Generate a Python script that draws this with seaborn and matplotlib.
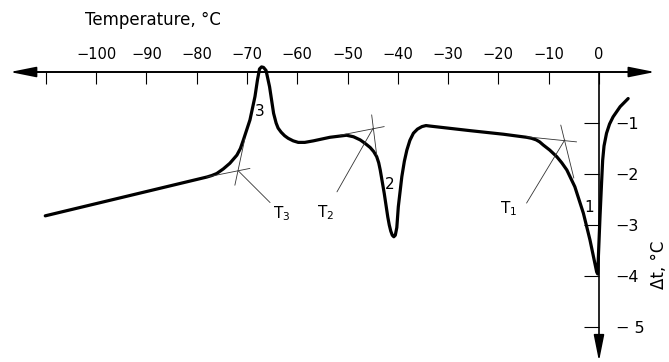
import matplotlib
matplotlib.use("Agg")
import matplotlib.pyplot as plt
import seaborn as sns
import pandas as pd

# ---- data ----
temperature = [-110.1, -78.0, -77.0, -76.0, -74.7, -73.4, -72.0, -71.3, -70.7, -69.4,
               -68.4, -67.9, -67.5, -67.1, -66.7, -66.2, -65.5, -64.7, -64.2, -63.8,
               -63.2, -62.5, -61.8, -60.8, -59.8, -58.5, -56.8, -53.5, -50.2, -48.8,
               -47.5, -46.5, -45.5, -44.8, -44.2, -43.8, -43.5, -42.7, -42.0, -41.7,
               -41.4, -41.1, -40.8, -40.5, -40.2, -39.9, -39.2, -38.7, -38.2, -37.6,
               -36.9, -36.1, -35.2, -34.4, -33.6, -25.6, -19.0, -14.4, -13.4, -12.5,
               -11.8, -11.1, -9.8, -8.4, -7.4, -6.4, -4.8, -3.1, -1.8, -0.46,
               -0.26, 0.2, 0.5, 0.73, 1.0, 1.5, 2.1, 2.8, 4.2, 5.8]
delta_t = [-2.82, -2.06, -2.03, -1.99, -1.90, -1.79, -1.63, -1.50, -1.33, -0.94,
           -0.48, -0.15, 0.06, 0.10, 0.09, 0.03, -0.29, -0.81, -1.00, -1.10,
           -1.18, -1.25, -1.30, -1.35, -1.38, -1.38, -1.35, -1.28, -1.24, -1.27,
           -1.33, -1.40, -1.48, -1.56, -1.66, -1.78, -1.92, -2.38, -2.84, -3.00,
           -3.12, -3.20, -3.23, -3.20, -3.05, -2.64, -2.05, -1.75, -1.53, -1.34,
           -1.20, -1.12, -1.07, -1.05, -1.06, -1.15, -1.22, -1.28, -1.30, -1.33,
           -1.37, -1.43, -1.53, -1.66, -1.78, -1.92, -2.25, -2.77, -3.29, -3.92,
           -3.96, -2.84, -2.20, -1.73, -1.45, -1.20, -1.02, -0.88, -0.68, -0.52]

x_ticks = [-110, -100, -90, -80, -70, -60, -50, -40, -30, -20, -10, 0]
x_tick_labels = ["", "\u2212100", "\u221290", "\u221280", "\u221270", "\u221260",
                 "\u221250", "\u221240", "\u221230", "\u221220", "\u221210", "0"]
y_ticks = [-1, -2, -3, -4, -5]
y_tick_labels = ["\u22121", "\u22122", "\u22123", "\u22124", "\u2212 5"]

# tangent constructions (T, dt) pairs: baseline tangent, steep tangent, leader
tangent_T3 = [[(-78.0, -2.06), (-69.4, -1.89)], [(-72.4, -2.22), (-70.4, -1.30)],
              [(-71.7, -1.94), (-65.4, -2.56)]]
tangent_T2 = [[(-51.5, -1.24), (-42.7, -1.07)], [(-45.2, -0.84), (-44.2, -1.63)],
              [(-44.9, -1.10), (-52.1, -2.35)]]
tangent_T1 = [[(-14.4, -1.27), (-4.45, -1.37)], [(-7.6, -1.04), (-5.0, -2.08)],
              [(-6.8, -1.33), (-14.4, -2.57)]]
construction_labels = [("T$_3$", -63.0, -2.78), ("T$_2$", -54.3, -2.76), ("T$_1$", -17.9, -2.68)]
peak_labels = [("3", -67.5, -0.78), ("2", -41.7, -2.2), ("1", -1.9, -2.66)]

df = pd.DataFrame({"T": temperature, "dt": delta_t})

sns.set_style("white")
plt.rcParams["font.family"] = ["DejaVu Sans"]

fig = plt.figure(figsize=(6.69, 3.62), dpi=100)
ax = fig.add_axes([0, 0, 1, 1])
ax.set_xlim(-119.1, 13.92)
ax.set_ylim(-5.686, 1.412)

sns.lineplot(data=df, x="T", y="dt", sort=False, estimator=None, color="black",
             linewidth=2.3, ax=ax)
for line in ax.get_lines():
    line.set_solid_joinstyle("round")
    line.set_solid_capstyle("round")

for group in (tangent_T3, tangent_T2, tangent_T1):
    for seg in group:
        ax.plot([seg[0][0], seg[1][0]], [seg[0][1], seg[1][1]], color="#333333",
                linewidth=0.6)

for txt, x, y in construction_labels:
    ax.text(x, y, txt, fontsize=11, ha="center", va="center", color="black")
for txt, x, y in peak_labels:
    ax.text(x, y, txt, fontsize=11, ha="center", va="center", color="black")

# axes: horizontal at dt=0 with labels on top, vertical at T=0 with labels at right
for s in ("left", "bottom"):
    ax.spines[s].set_visible(False)
ax.spines["top"].set_position(("data", 0))
ax.spines["top"].set_bounds(-113, 7)
ax.spines["top"].set_linewidth(1.4)
ax.spines["top"].set_color("black")
ax.spines["right"].set_position(("data", 0))
ax.spines["right"].set_bounds(-5.3, 0)
ax.spines["right"].set_linewidth(1.2)
ax.spines["right"].set_color("black")

ax.xaxis.tick_top()
ax.set_xticks(x_ticks)
ax.set_xticklabels(x_tick_labels)
ax.tick_params(axis="x", direction="in", length=8.5, width=0.8, pad=7,
               labelsize=10.5, top=True, bottom=False, colors="black")
ax.yaxis.tick_right()
ax.set_yticks(y_ticks)
ax.set_yticklabels(y_tick_labels)
ax.tick_params(axis="y", direction="in", length=11, width=0.8, pad=12,
               labelsize=11.5, right=True, left=False, colors="black")
ax.set_xlabel("")
ax.set_ylabel("")

arrow = dict(arrowstyle="-|>,head_length=1.6,head_width=0.32", color="black",
             lw=1.2, shrinkA=0, shrinkB=0)
ax.annotate("", xy=(-117.1, 0), xytext=(-112.5, 0), arrowprops=arrow)
ax.annotate("", xy=(11.1, 0), xytext=(6.5, 0), arrowprops=arrow)
ax.annotate("", xy=(0, -5.67), xytext=(0, -5.22), arrowprops=arrow)

ax.text(-102.2, 1.02, "Temperature, \u00b0C", fontsize=12, ha="left", va="center",
        color="black")
ax.text(12.0, -3.78, "\u0394t, \u00b0C", fontsize=12, ha="center", va="center",
        rotation=90, color="black")

fig.savefig("out.png", dpi=100)
